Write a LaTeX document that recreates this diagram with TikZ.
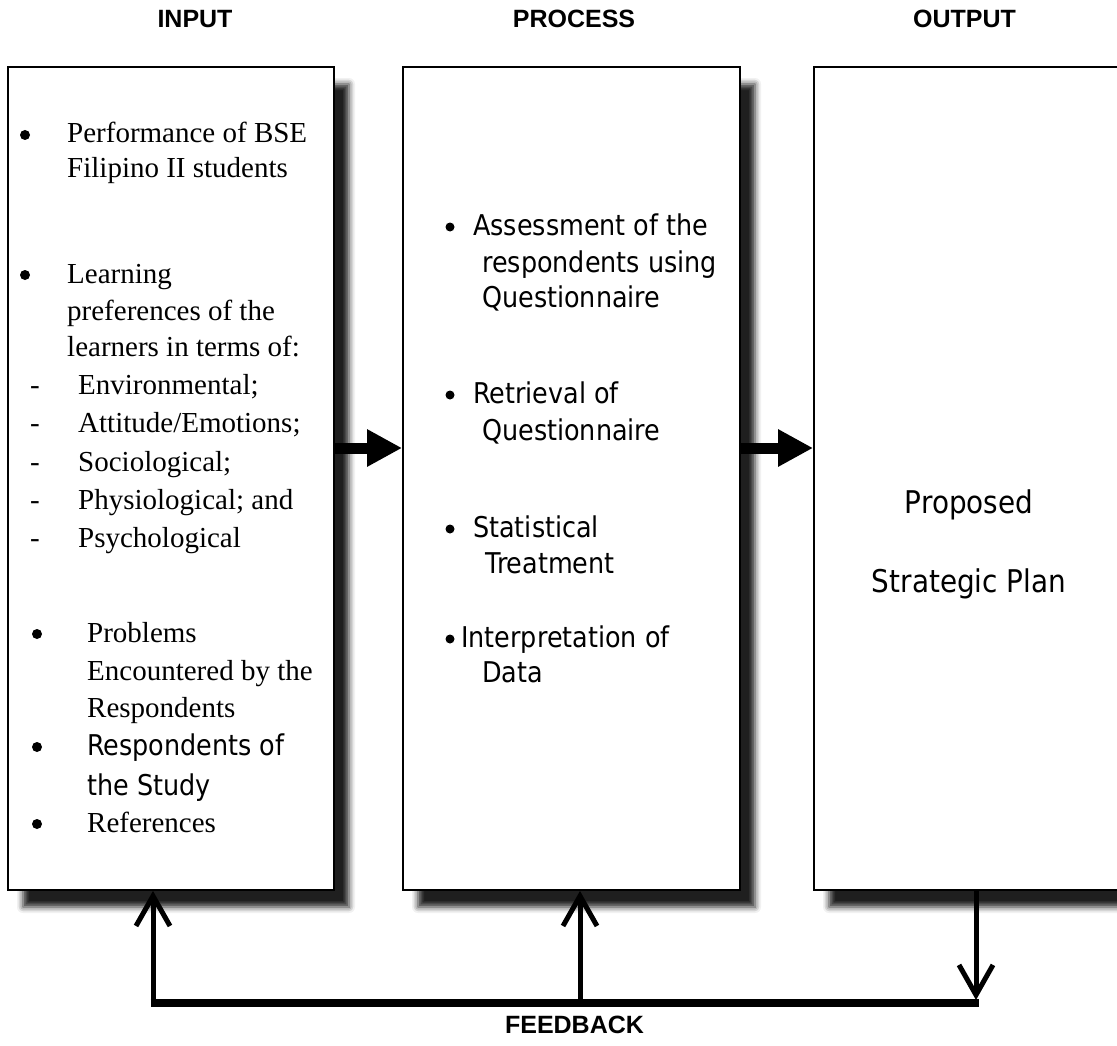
\documentclass[tikz,border=0pt]{standalone}
\usepackage{fontspec}
\setmainfont{Liberation Serif}
\setsansfont{Liberation Sans}
\newfontfamily\tahfont[FakeStretch=0.89]{DejaVu Sans}
\usetikzlibrary{arrows.meta,shadows.blur}

\tikzset{
  panel/.style={rectangle, draw=black, line width=1.8pt, fill=white, inner sep=0pt,
    minimum height=823pt,
    blur shadow={shadow xshift=15pt, shadow yshift=-17pt, shadow blur radius=6pt, shadow opacity=88}},
  heading/.style={anchor=base, inner sep=0pt, font=\sffamily\bfseries\fontsize{25}{30}\selectfont},
  serifline/.style={anchor=base west, inner sep=0pt, font=\fontsize{29}{36}\selectfont},
  sansline/.style={anchor=base west, inner sep=0pt, font=\tahfont\fontsize{28.6}{36}\selectfont},
  dot/.style={circle, fill=black, inner sep=0pt, minimum size=#1},
  dot/.default=10pt,
  outline/.style={anchor=base, inner sep=0pt, font=\tahfont\fontsize{31.3}{36}\selectfont},
  flow/.style={line width=11pt, -{Triangle[length=35pt,width=35pt]}},
  fbbar/.style={line width=8pt},
  fbarrow/.style={line width=5pt, -{Straight Barb[length=30pt,width=34pt]}},
}

\begin{document}
\begin{tikzpicture}[x=1pt, y=-1pt]
\useasboundingbox (0,0) rectangle (1117,1046);

% column headings
\node[heading] (hin)   at (195,28)   {INPUT};
\node[heading] (hproc) at (574,28)   {PROCESS};
\node[heading] (hout)  at (964.5,28) {OUTPUT};

% the three panels
\node[panel, minimum width=326pt] (inbox)   at (171,478.5)   {};
\node[panel, minimum width=337pt] (procbox) at (571.5,478.5) {};
\node[panel, minimum width=336pt] (outbox)  at (982,478.5)   {};

% input items
\node[dot]       (ib1)  at (25,135)  {};
\node[serifline] (i1a)  at (67,143)  {Performance of BSE};
\node[serifline] (i1b)  at (67,178)  {Filipino II students};
\node[dot]       (ib2)  at (25,275)  {};
\node[serifline] (i2a)  at (67,283)  {Learning};
\node[serifline] (i2b)  at (67,320)  {preferences of the};
\node[serifline] (i2c)  at (67,356)  {learners in terms of:};
\node[serifline] (id1)  at (30,394)  {-};
\node[serifline] (i2d)  at (78,394)  {Environmental;};
\node[serifline] (id2)  at (30,432)  {-};
\node[serifline] (i2e)  at (78,432)  {Attitude/Emotions;};
\node[serifline] (id3)  at (30,471)  {-};
\node[serifline] (i2f)  at (78,471)  {Sociological;};
\node[serifline] (id4)  at (30,509)  {-};
\node[serifline] (i2g)  at (78,509)  {Physiological; and};
\node[serifline] (id5)  at (30,547)  {-};
\node[serifline] (i2h)  at (78,547)  {Psychological};
\node[dot]       (ib3)  at (37,634)  {};
\node[serifline] (i3a)  at (87,642)  {Problems};
\node[serifline] (i3b)  at (87,680)  {Encountered by the};
\node[serifline] (i3c)  at (87,717)  {Respondents};
\node[dot]       (ib4)  at (37,747)  {};
\node[sansline]  (i4a)  at (87,755)  {Respondents of};
\node[sansline]  (i4b)  at (87,795)  {the Study};
\node[dot]       (ib5)  at (37,824)  {};
\node[serifline] (i5a)  at (87,832)  {References};

% process items
\node[dot=9pt]  (pb1) at (450,227) {};
\node[sansline] (p1a) at (473,235) {Assessment of the};
\node[sansline] (p1b) at (482,272) {respondents using};
\node[sansline] (p1c) at (482,307) {Questionnaire};
\node[dot=9pt]  (pb2) at (450,395) {};
\node[sansline] (p2a) at (473,403) {Retrieval of};
\node[sansline] (p2b) at (482,440) {Questionnaire};
\node[dot=9pt]  (pb3) at (450,529) {};
\node[sansline] (p3a) at (473,537) {Statistical};
\node[sansline] (p3b) at (485,573) {Treatment};
\node[dot=9pt]  (pb4) at (450,639) {};
\node[sansline] (p4a) at (461,647) {Interpretation of};
\node[sansline] (p4b) at (482,682) {Data};

% output text
\node[outline] (o1) at (969,513) {Proposed};
\node[outline] (o2) at (969,592) {Strategic Plan};

% flow arrows between panels
\draw[flow] (inbox.east |- 0,448) -- (procbox.west |- 0,448);
\draw[flow] (procbox.east |- 0,448) -- (outbox.west |- 0,448);

% feedback loop
\coordinate (fl) at (153,1003);
\coordinate (fm) at (580,1003);
\coordinate (fr) at (976,1003);
\draw[fbbar] ([xshift=-2.5pt]fl) -- ([xshift=2.5pt]fr);
\draw[fbarrow] ([yshift=2pt]fl) -- (fl |- inbox.south);
\draw[fbarrow] ([yshift=2pt]fm) -- (fm |- procbox.south);
\draw[fbarrow] (fr |- outbox.south) -- ([yshift=3pt]fr);

\node[heading] (hfb) at (574.5,1033) {FEEDBACK};
\end{tikzpicture}
\end{document}
